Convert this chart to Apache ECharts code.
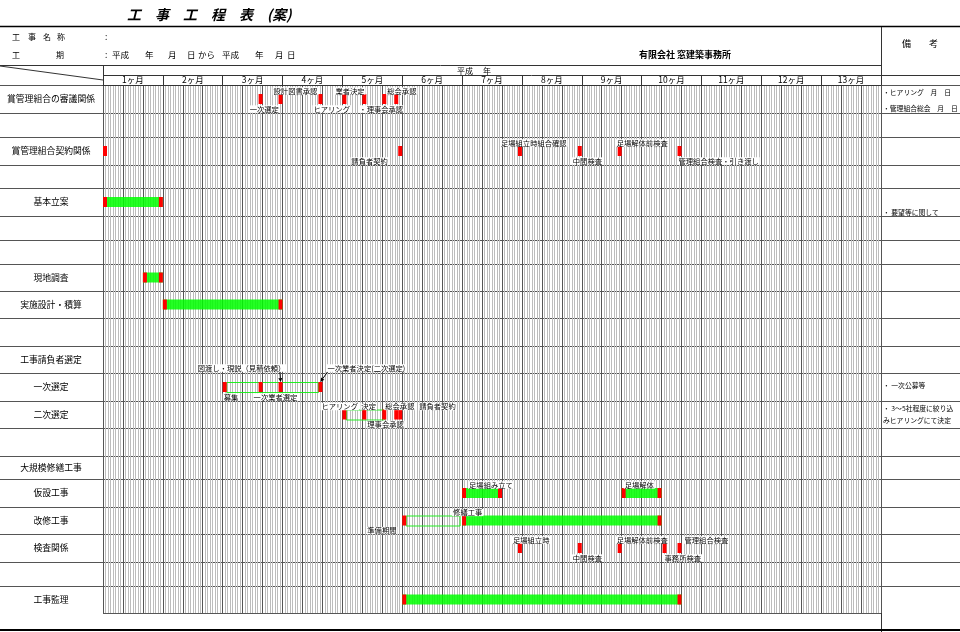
<!DOCTYPE html>
<html><head><meta charset="utf-8">
<script src="https://cdn.jsdelivr.net/npm/echarts@6.0.0/dist/echarts.min.js"></script>
<style>html,body{margin:0;padding:0;background:#fff}#c{width:960px;height:632px}</style>
</head><body><div id="c"></div>
<script>
// ---------------- data ----------------
const months = ['1ヶ月','2ヶ月','3ヶ月','4ヶ月','5ヶ月','6ヶ月','7ヶ月','8ヶ月','9ヶ月','10ヶ月','11ヶ月','12ヶ月','13ヶ月'];
const rowLabels = ['賞管理組合の審議関係','','賞管理組合契約関係','','基本立案','','','現地調査','実施設計・積算','',
  '工事請負者選定','一次選定','二次選定','','大規模修繕工事','仮設工事','改修工事','検査関係','','工事監理'];
// [row, start day]
const milestones = [
  [0,78],[0,88],[0,108],[0,120],[0,130],[0,140],[0,146],
  [2,0],[2,148],[2,208],[2,238],[2,258],[2,288],
  [11,60],[11,78],[11,88],[11,108],
  [12,120],[12,130],[12,140],[12,146],[12,148],
  [16,150],
  [17,208],[17,238],[17,258],[17,280.5],[17,288]
];
// [row, start day, end day]
const bars = [[4,0,30],[7,20,30],[8,30,90],[15,180,200],[15,260,280],[16,180,280],[19,150,290]];
const plans = [[11,62,108],[12,122,141],[16,152,179]];
// [row, day, text, place]
const annotations = [
  [0,73,'一次選定','b'],[0,85,'設計図書承認','t'],[0,105,'ヒアリング','b'],[0,116,'業者決定','t'],[0,128,'・理事会承認','b'],[0,142,'総会承認','t'],
  [2,124,'請負者契約','b'],[2,199,'足場組立時組合確認','t'],[2,235,'中間検査','b'],[2,257,'足場解体前検査','t'],[2,288,'管理組合検査・引き渡し','b'],
  [11,47,'図渡し・現説（見積依頼）','h'],[11,112,'一次業者決定(二次選定)','h'],[11,60,'募集','b'],[11,75,'一次業者選定','b'],
  [12,109,'ヒアリング','t'],[12,129,'決定','t'],[12,141,'総会承認','t'],[12,158,'請負者契約','t'],[12,132,'理事会承認','b'],
  [15,183,'足場組み立て','t'],[15,261,'足場解体','t'],
  [16,175,'修繕工事','t'],[16,132,'準備期間','b'],
  [17,205,'足場組立時','t'],[17,235,'中間検査','b'],[17,257,'足場解体前検査','t'],[17,291,'管理組合検査','t'],[17,281,'事務所検査','b']
];
const arrows = [[11,88.7,89],[11,112.5,109]];
const remarkRows = [0,4,11,12];
const remarkTexts = ['・ヒアリング　月　日\n・管理組合総会　月　日','・ 要望等に関して','・ 一次公募等','・ 3～5社程度に絞り込\nみヒアリングにて決定'];

// ---------------- layout ----------------
const FONT = '"Noto Sans CJK JP","Noto Sans CJK SC",sans-serif';
const GRID_TOP = 85, GRID_H = 528;
const ROW_H = [28,24,28,23,28,24,24,27,27,28,27,28,27,28,23,28,27,28,24,27];
const ROW_TOP = []; (function(){let a=0; for (const h of ROW_H){ROW_TOP.push(a); a+=h;}})();
const rowMid = r => ROW_TOP[r] + ROW_H[r]/2;
const REMARK_DY = [1,10,-2,0], REMARK_LH = [16,12,12,12];
const PLACE_DY = {t:-8, b:10, h:-19};

const txt = (text, x, y, size, extra) => ({type:'text', x, y, silent:true,
  style: Object.assign({text, fill:'#000', fontSize:size, fontFamily:FONT, align:'left', verticalAlign:'middle'}, extra||{})});
const ln = (x1,y1,x2,y2,w,c) => ({type:'line', silent:true, shape:{x1,y1,x2,y2}, style:{stroke:c||'#333', lineWidth:w||1}});

const g = [];
g.push(ln(0,26.5,960,26.5,1.5,'#000'));
g.push(ln(0,65.5,881,65.5,1,'#333'));
g.push(ln(103,75.5,960,75.5,1,'#333'));
for (let i=0;i<ROW_H.length;i++){ const y = GRID_TOP + ROW_TOP[i] + 0.5; g.push(ln(0,y,960,y,1,'#555')); }
g.push(ln(103,GRID_TOP+GRID_H+0.5,881,GRID_TOP+GRID_H+0.5,1,'#555'));
g.push(ln(103.5,65,103.5,GRID_TOP+GRID_H,1,'#333'));
g.push(ln(881.5,27,881.5,632,1,'#333'));
g.push(ln(0,66,103,80,1,'#333'));
g.push(ln(0,630,960,630,2,'#000'));
g.push(txt('工　事　工　程　表　(案)',127,15,14,{fontWeight:'bold',fontStyle:'italic'}));
[['工',12],['事',28],['名',43],['称',57]].forEach(p => g.push(txt(p[0],p[1],37,8)));
g.push(txt(':',105,37,8.5));
g.push(txt('工',12,55,8)); g.push(txt('期',56,55,8));
[[':',105],['平成',112],['年',145],['月',168],['日',187],['から',198],['平成',222],['年',255],['月',275],['日',287]]
  .forEach(p => g.push(txt(p[0],p[1],55,8.5)));
g.push(txt('有限会社 窓建築事務所',685,55,9,{align:'center',fontWeight:'bold'}));
g.push(txt('備　　考',902,44,9));
g.push(txt('平成',457,70.5,8)); g.push(txt('年',483,70.5,8));

// ---------------- chart ----------------
const chart = echarts.init(document.getElementById('c'), null, {renderer:'canvas'});
chart.setOption({
  animation:false,
  backgroundColor:'#fff',
  grid:{left:103, top:GRID_TOP, width:778, height:GRID_H, containLabel:false, outerBoundsMode:'none'},
  xAxis:[
    {type:'value', min:0, max:390, interval:10, position:'bottom',
     axisLine:{show:false}, axisTick:{show:false}, axisLabel:{show:false},
     splitLine:{show:true, lineStyle:{color:'#555', width:1}},
     minorTick:{show:false, splitNumber:8},
     minorSplitLine:{show:true, lineStyle:{color:'#bcbcbc', width:1}}},
    {type:'category', data:months, position:'top', boundaryGap:true,
     axisLine:{show:true, lineStyle:{color:'#333'}},
     axisTick:{show:true, length:10, interval:0, lineStyle:{color:'#333'}},
     axisLabel:{show:true, interval:0, margin:1, fontSize:8.5, color:'#000', fontFamily:FONT},
     splitLine:{show:false}}
  ],
  yAxis:{type:'value', min:0, max:GRID_H, inverse:true, show:false},
  graphic:{elements:g},
  series:[
    {type:'custom', name:'plans', z:3, encode:{x:[1,2], y:0}, data:plans,
     renderItem:(p, api) => {
       const yc = api.coord([0, rowMid(api.value(0))])[1];
       const x0 = api.coord([api.value(1),0])[0], x1 = api.coord([api.value(2),0])[0];
       return {type:'rect', shape:{x:x0, y:yc-4.5, width:x1-x0, height:10}, style:{fill:null, stroke:'#22ee22', lineWidth:1}};
     }},
    {type:'custom', name:'bars', z:4, encode:{x:[1,2], y:0}, data:bars,
     renderItem:(p, api) => {
       const yc = api.coord([0, rowMid(api.value(0))])[1];
       const x0 = api.coord([api.value(1),0])[0], x1 = api.coord([api.value(2),0])[0];
       const cw = api.size([2,0])[0], h = 10;
       return {type:'group', children:[
         {type:'rect', shape:{x:x0, y:yc-h/2, width:x1-x0, height:h}, style:{fill:'#00ff00', opacity:0.86}},
         {type:'rect', shape:{x:x0, y:yc-h/2, width:cw, height:h}, style:{fill:'#ff0000'}},
         {type:'rect', shape:{x:x1-cw, y:yc-h/2, width:cw, height:h}, style:{fill:'#ff0000'}}
       ]};
     }},
    {type:'custom', name:'milestones', z:4, encode:{x:1, y:0}, data:milestones,
     renderItem:(p, api) => {
       const yc = api.coord([0, rowMid(api.value(0))])[1];
       const x0 = api.coord([api.value(1),0])[0];
       const cw = api.size([2,0])[0];
       return {type:'rect', shape:{x:x0, y:yc-5, width:cw, height:10}, style:{fill:'#ff0000'}};
     }},
    {type:'custom', name:'arrows', z:6, encode:{x:[1,2], y:0}, data:arrows,
     renderItem:(p, api) => {
       const yc = api.coord([0, rowMid(api.value(0))])[1];
       const xa = api.coord([api.value(1),0])[0], xb = api.coord([api.value(2),0])[0];
       const ya = yc-15, yb = yc-5;
       const ang = Math.atan2(yb-ya, xb-xa), L = 4, W = 2;
       const bx = xb - L*Math.cos(ang), by = yb - L*Math.sin(ang);
       const nx = -Math.sin(ang)*W, ny = Math.cos(ang)*W;
       return {type:'group', children:[
         {type:'line', shape:{x1:xa,y1:ya,x2:bx,y2:by}, style:{stroke:'#000', lineWidth:1}},
         {type:'polygon', shape:{points:[[xb,yb],[bx+nx,by+ny],[bx-nx,by-ny]]}, style:{fill:'#000'}}
       ]};
     }},
    {type:'custom', name:'annotations', z:7, encode:{x:1, y:0}, data:annotations.map(a => [a[0], a[1]]),
     renderItem:(p, api) => {
       const a = annotations[p.dataIndex];
       const yc = api.coord([0, rowMid(api.value(0))])[1];
       const x = api.coord([api.value(1),0])[0];
       return {type:'text', x:x, y:yc + PLACE_DY[a[3]],
         style:{text:a[2], fill:'#000', fontSize:7.3, fontFamily:FONT, align:'left', verticalAlign:'middle',
                backgroundColor:'#fff', padding:[0,1]}};
     }},
    {type:'custom', name:'rowLabels', z:7, encode:{x:0, y:1}, data:rowLabels.map((t,i) => [0, i]),
     renderItem:(p, api) => {
       const t = rowLabels[p.dataIndex];
       if (!t) return null;
       const yc = api.coord([0, rowMid(api.value(1))])[1];
       return {type:'text', x:51, y:yc, style:{text:t, fill:'#000', fontSize:8.8, fontFamily:FONT, align:'center', verticalAlign:'middle'}};
     }},
    {type:'custom', name:'remarks', z:7, encode:{x:0, y:1}, data:remarkRows.map(r => [0, r]),
     renderItem:(p, api) => {
       const i = p.dataIndex;
       const yc = api.coord([0, rowMid(api.value(1))])[1];
       return {type:'text', x:883, y:yc + REMARK_DY[i], style:{text:remarkTexts[i], fill:'#000', fontSize:6.8, fontFamily:FONT,
         align:'left', verticalAlign:'middle', lineHeight:REMARK_LH[i]}};
     }}
  ]
});
</script></body></html>
